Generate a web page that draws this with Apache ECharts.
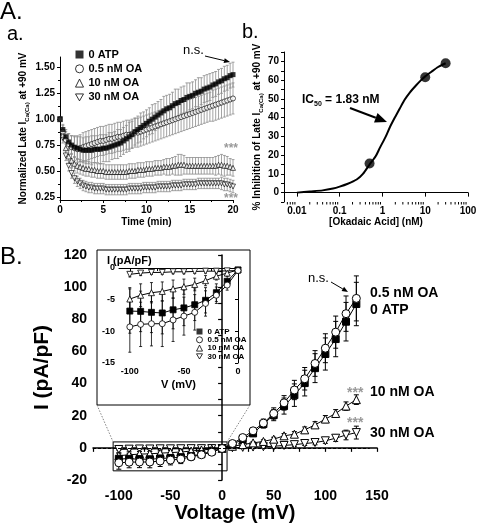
<!DOCTYPE html>
<html><head><meta charset="utf-8">
<script src="https://cdn.jsdelivr.net/npm/echarts@6/dist/echarts.min.js"></script>
<style>html,body{margin:0;padding:0;background:#fff}#c{width:477px;height:526px}</style>
</head><body><div id="c"></div>
<script>
// ---------- Panel A.a : time course (normalized late I at +90 mV) ----------
const timeMin = [0,0.33,0.67,1,1.33,1.67,2,2.33,2.67,3,3.33,3.67,4,4.33,4.67,5,5.33,5.67,6,6.33,6.67,7,7.33,7.67,8,8.33,8.67,9,9.33,9.67,10,10.33,10.67,11,11.33,11.67,12,12.33,12.67,13,13.33,13.67,14,14.33,14.67,15,15.33,15.67,16,16.33,16.67,17,17.33,17.67,18,18.33,18.67,19,19.33,19.67,20];
const tcAtp = [1.00,0.90,0.83,0.78,0.75,0.73,0.72,0.71,0.70,0.70,0.70,0.70,0.71,0.71,0.71,0.72,0.72,0.73,0.74,0.75,0.76,0.77,0.79,0.81,0.83,0.85,0.88,0.90,0.92,0.94,0.96,0.98,1.00,1.02,1.04,1.06,1.08,1.10,1.11,1.13,1.15,1.16,1.18,1.19,1.21,1.22,1.23,1.25,1.26,1.27,1.29,1.30,1.31,1.33,1.34,1.36,1.37,1.39,1.40,1.42,1.43];
const tcAtpErr = [0.00,0.05,0.07,0.08,0.09,0.10,0.11,0.12,0.12,0.13,0.13,0.14,0.13,0.13,0.14,0.13,0.13,0.14,0.13,0.13,0.14,0.13,0.13,0.13,0.14,0.13,0.13,0.13,0.14,0.13,0.13,0.13,0.14,0.13,0.13,0.13,0.14,0.13,0.13,0.13,0.14,0.13,0.13,0.13,0.14,0.13,0.13,0.13,0.14,0.13,0.13,0.13,0.13,0.12,0.12,0.12,0.12,0.12,0.12,0.12,0.12];
const tcOa05 = [1.00,0.88,0.80,0.76,0.73,0.72,0.71,0.72,0.73,0.74,0.75,0.76,0.77,0.78,0.79,0.79,0.80,0.81,0.81,0.82,0.83,0.83,0.84,0.85,0.85,0.86,0.87,0.87,0.88,0.89,0.90,0.91,0.92,0.93,0.94,0.95,0.96,0.97,0.98,0.99,1.00,1.01,1.02,1.03,1.04,1.05,1.06,1.07,1.08,1.09,1.10,1.11,1.12,1.13,1.14,1.15,1.16,1.17,1.18,1.19,1.20];
const tcOa05Err = [0.00,0.06,0.08,0.10,0.11,0.12,0.13,0.13,0.14,0.14,0.14,0.14,0.14,0.14,0.14,0.14,0.14,0.14,0.14,0.14,0.14,0.14,0.14,0.14,0.14,0.14,0.14,0.14,0.14,0.14,0.14,0.14,0.14,0.14,0.14,0.14,0.14,0.14,0.14,0.14,0.14,0.14,0.14,0.14,0.14,0.14,0.14,0.14,0.14,0.14,0.14,0.14,0.14,0.15,0.15,0.15,0.15,0.15,0.15,0.15,0.15];
const tcOa10 = [1.00,0.85,0.72,0.64,0.60,0.57,0.55,0.54,0.53,0.52,0.52,0.51,0.51,0.50,0.50,0.50,0.49,0.49,0.49,0.49,0.49,0.49,0.49,0.49,0.50,0.50,0.50,0.51,0.51,0.51,0.52,0.52,0.52,0.53,0.53,0.53,0.54,0.54,0.54,0.55,0.55,0.56,0.56,0.56,0.55,0.55,0.55,0.55,0.55,0.55,0.55,0.55,0.55,0.55,0.55,0.56,0.56,0.55,0.55,0.54,0.53];
const tcOa10Err = [0.00,0.05,0.06,0.07,0.07,0.07,0.07,0.07,0.07,0.07,0.07,0.07,0.07,0.07,0.07,0.07,0.07,0.07,0.07,0.07,0.07,0.07,0.07,0.07,0.07,0.07,0.07,0.07,0.07,0.07,0.07,0.07,0.07,0.07,0.07,0.07,0.07,0.08,0.08,0.08,0.09,0.10,0.10,0.09,0.08,0.08,0.08,0.08,0.08,0.08,0.08,0.08,0.08,0.08,0.09,0.09,0.10,0.10,0.09,0.08,0.08];
const tcOa30 = [1.00,0.82,0.65,0.55,0.48,0.43,0.40,0.38,0.36,0.35,0.34,0.34,0.33,0.33,0.33,0.33,0.32,0.32,0.32,0.32,0.32,0.32,0.32,0.32,0.33,0.33,0.33,0.33,0.33,0.34,0.34,0.34,0.34,0.34,0.35,0.35,0.35,0.35,0.35,0.36,0.36,0.36,0.36,0.37,0.37,0.37,0.37,0.37,0.38,0.38,0.38,0.38,0.38,0.38,0.38,0.38,0.38,0.37,0.37,0.36,0.35];
const tcOa30Err = [0.00,0.05,0.05,0.05,0.05,0.05,0.05,0.05,0.05,0.05,0.05,0.05,0.05,0.05,0.05,0.05,0.05,0.05,0.05,0.05,0.05,0.05,0.05,0.05,0.05,0.05,0.05,0.05,0.05,0.05,0.05,0.05,0.05,0.05,0.05,0.05,0.05,0.05,0.05,0.05,0.05,0.05,0.05,0.05,0.05,0.05,0.05,0.05,0.05,0.05,0.05,0.05,0.05,0.05,0.05,0.05,0.06,0.06,0.06,0.06,0.06];

// ---------- Panel A.b : concentration-response ----------
const okaConc = [0.5, 10, 30];
const okaInhib = [15.5, 61.5, 69];
const fitConc = [0.01,0.02,0.04,0.07,0.1,0.15,0.25,0.35,0.5,0.7,0.875,1.2,1.5,2,2.56,3.3,4.4,6,8,10,14,20,30];
const fitInhib = [0,0.6,1.2,2.2,3.2,4.6,7,10,15,19.5,24,30,35,40.5,45,49.5,53.5,57,60,62,64.5,67,69];
const logMinorTicks = [0.006,0.007,0.008,0.009,0.02,0.03,0.04,0.05,0.06,0.07,0.08,0.09,0.2,0.3,0.4,0.5,0.6,0.7,0.8,0.9,2,3,4,5,6,7,8,9,20,30,40,50,60,70,80,90];

// ---------- Panel B : I-V relationship ----------
const voltage = [-100,-90,-80,-70,-60,-50,-40,-30,-20,-10,0,10,20,30,40,50,60,70,80,90,100,110,120,130];
const ivAtp  = [-6.8,-6.85,-7.0,-7.1,-6.6,-6.3,-5.8,-5.1,-3.9,-2.1,-0.3,2.0,5.5,9.0,14.8,20.4,26.0,32.8,40.3,49.6,58.4,67.7,78.5,89.5];
const ivOa05 = [-9.3,-8.9,-8.8,-8.8,-8.2,-7.6,-7.0,-5.6,-4.3,-2.7,-0.4,2.7,6.4,10.6,15.4,21.4,28.0,36.0,43.0,52.5,62.0,72.0,83.5,93.0];
const ivOa10 = [-4.9,-4.3,-3.9,-3.7,-3.3,-2.95,-2.6,-2.0,-1.3,-0.8,-0.3,1.0,2.0,3.1,4.0,5.4,7.5,8.5,11.2,14.3,17.9,21.4,26.0,30.0];
const ivOa30 = [-1.0,-0.8,-0.7,-0.7,-0.6,-0.6,-0.55,-0.5,-0.5,-0.45,-0.4,0.1,0.3,0.5,0.7,1.0,1.5,2.0,2.7,3.3,4.4,6.0,8.0,9.5];
const ivAtpErr  = [3.5,3.2,3.2,3.3,3.0,2.8,2.5,2.0,1.4,0.8,0.3,0.6,1.0,1.5,2.5,3.5,5.0,7.0,8.0,9.0,10.0,11.0,12.0,13.5];
const ivOa05Err = [4.0,3.5,3.5,3.6,3.4,3.0,2.8,2.0,1.3,0.8,0.3,0.7,1.2,1.8,2.5,3.5,4.5,6.0,7.0,8.0,9.0,10.0,11.0,14.0];
const ivOa10Err = [1.8,1.8,1.6,1.5,1.4,1.2,1.0,0.8,0.6,0.4,0.2,0.4,0.6,0.8,1.0,1.2,1.4,1.6,1.8,2.0,2.2,2.4,2.6,3.0];
const ivOa30Err = [0.4,0.4,0.3,0.3,0.3,0.3,0.3,0.3,0.3,0.3,0.2,0.2,0.3,0.4,0.5,0.6,0.8,1.0,1.2,1.4,1.6,2.0,3.0,4.0];

const seriesNames = ['0 ATP', '0.5 nM OA', '10 nM OA', '30 nM OA'];

// ---------- helpers ----------
const FONT = '"Liberation Sans", Arial, Helvetica, sans-serif';
const INV_TRI = 'path://M0,0L10,0L5,8.66Z';
const symbols = ['rect', 'circle', 'triangle', INV_TRI];
const fills = ['#000', '#fff', '#fff', '#fff'];
const pts = (xs, ys) => xs.map((x, i) => [x, ys[i]]);
const ept = (xs, ys, es) => xs.map((x, i) => [x, ys[i], es[i]]);
const bold = (s, extra) => Object.assign({color: '#000', fontWeight: 'bold', fontSize: s, fontFamily: FONT}, extra || {});
function axis(o) {
  return Object.assign({
    splitLine: {show: false},
    axisLine: {show: true, lineStyle: {color: '#000', width: 1}},
    axisTick: {show: true, length: 3, lineStyle: {color: '#000', width: 1}}
  }, o);
}
function errRender(cap, color, lw) {
  return function (params, api) {
    const x = api.value(0), y = api.value(1), e = api.value(2);
    if (!e) return null;
    const t = api.coord([x, y + e]), b = api.coord([x, y - e]);
    const st = {stroke: color, lineWidth: lw, fill: null};
    return {type: 'group', children: [
      {type: 'line', shape: {x1: t[0], y1: t[1], x2: b[0], y2: b[1]}, style: st},
      {type: 'line', shape: {x1: t[0] - cap, y1: t[1], x2: t[0] + cap, y2: t[1]}, style: st},
      {type: 'line', shape: {x1: b[0] - cap, y1: b[1], x2: b[0] + cap, y2: b[1]}, style: st}
    ]};
  };
}
function errSeries(xi, yi, data, cap, color, lw) {
  return {type: 'custom', xAxisIndex: xi, yAxisIndex: yi, data: data, encode: {x: 0, y: 1},
    renderItem: errRender(cap, color, lw), z: 1, silent: true, clip: false};
}
function subRich(size) {
  return {
    b: {fontSize: size, fontWeight: 'bold', fontFamily: FONT, color: '#000', lineHeight: size + 3, verticalAlign: 'middle'},
    s: {fontSize: Math.round(size * 0.6), fontWeight: 'bold', fontFamily: FONT, color: '#000', lineHeight: size + 3, verticalAlign: 'bottom', padding: [3, 0, 0, 0]}
  };
}

const tcVals = [tcAtp, tcOa05, tcOa10, tcOa30];
const tcErrs = [tcAtpErr, tcOa05Err, tcOa10Err, tcOa30Err];
const ivVals = [ivAtp, ivOa05, ivOa10, ivOa30];
const ivErrs = [ivAtpErr, ivOa05Err, ivOa10Err, ivOa30Err];
const drawOrder = [3, 2, 1, 0];        // time course: 0 ATP on top
const ivOrder = [3, 2, 0, 1];          // I-V: 0.5 nM OA on top
const negIdx = voltage.map((v, i) => i).filter(i => voltage[i] <= 0);

const series = [];
// A.a error bars then markers
drawOrder.forEach(k => series.push(errSeries(0, 0, ept(timeMin, tcVals[k], tcErrs[k]), 1.5, '#8c8c8c', 0.8)));
drawOrder.forEach(k => series.push({
  type: 'scatter', name: seriesNames[k], xAxisIndex: 0, yAxisIndex: 0,
  data: pts(timeMin, tcVals[k]), symbol: symbols[k], symbolSize: 5,
  itemStyle: {color: fills[k], borderColor: '#000', borderWidth: k === 0 ? 0 : 0.8}, z: 3, silent: true
}));
// A.b fit + points + minor log ticks
series.push({type: 'line', xAxisIndex: 2, yAxisIndex: 2, data: pts(fitConc, fitInhib), smooth: 0.25,
  symbol: 'none', lineStyle: {color: '#000', width: 2}, z: 2, silent: true});
series.push({type: 'scatter', xAxisIndex: 2, yAxisIndex: 2, data: pts(okaConc, okaInhib), symbolSize: 10,
  itemStyle: {color: '#000'}, z: 3, silent: true});
series.push({type: 'custom', xAxisIndex: 2, yAxisIndex: 2, data: logMinorTicks.map(v => [v, -5]), encode: {x: 0, y: 1},
  clip: false, silent: true,
  renderItem: function (p, api) {
    const c = api.coord([api.value(0), api.value(1)]);
    return {type: 'line', shape: {x1: c[0], y1: c[1], x2: c[0], y2: c[1] + 2.5}, style: {stroke: '#000', lineWidth: 1}};
  }});
// B main: error bars + lines
ivOrder.forEach(k => series.push(errSeries(3, 3, ept(voltage, ivVals[k], ivErrs[k]), 2.5, '#000', 1)));
ivOrder.forEach((k, j) => {
  const s = {
    type: 'line', name: seriesNames[k], xAxisIndex: 3, yAxisIndex: 3, data: pts(voltage, ivVals[k]),
    symbol: symbols[k], symbolSize: k === 0 ? 7 : 8, showSymbol: true,
    lineStyle: {color: '#000', width: 1}, itemStyle: {color: fills[k], borderColor: '#000', borderWidth: 1},
    z: 3, silent: true
  };
  if (j === 0) {
    s.markLine = {silent: true, symbol: 'none', label: {show: false},
      lineStyle: {color: '#000', width: 1, type: [3, 2]},
      data: [[{coord: [-125, 0]}, {coord: [143, 0]}]]};
    s.markArea = {silent: true, label: {show: false},
      itemStyle: {color: 'rgba(0,0,0,0)', borderColor: '#000', borderWidth: 1},
      data: [[{coord: [-105.5, 3.7]}, {coord: [4.8, -14.3]}]]};
  }
  series.push(s);
});
// Inset: negative voltages
const sub = arr => negIdx.map(i => arr[i]);
ivOrder.forEach(k => series.push(errSeries(4, 4, ept(sub(voltage), sub(ivVals[k]), sub(ivErrs[k])), 1.5, '#000', 0.8)));
ivOrder.forEach(k => series.push({
  type: 'line', name: seriesNames[k], xAxisIndex: 4, yAxisIndex: 4, data: pts(sub(voltage), sub(ivVals[k])),
  symbol: symbols[k], symbolSize: 6, showSymbol: true,
  lineStyle: {color: '#000', width: 1}, itemStyle: {color: fills[k], borderColor: '#000', borderWidth: 0.8},
  z: 3, silent: true
}));

const legendData = seriesNames.map((n, k) => ({name: n, icon: symbols[k],
  itemStyle: {color: fills[k], borderColor: '#000', borderWidth: k === 0 ? 0 : 1}}));

const option = {
  animation: false,
  backgroundColor: '#fff',
  textStyle: {fontFamily: FONT},
  grid: [
    {left: 60, top: 57, width: 173, height: 143, outerBoundsMode: 'none'},
    {left: 60, top: 67.4, width: 173, height: 129.5, outerBoundsMode: 'none'},
    {left: 284, top: 52, width: 184, height: 150, outerBoundsMode: 'none'},
    {left: 93, top: 255, width: 284, height: 225, outerBoundsMode: 'none'},
    {left: 119, top: 268, width: 119, height: 95, outerBoundsMode: 'none'},
    {left: 129.8, top: 268, width: 108.2, height: 95, outerBoundsMode: 'none'}
  ],
  xAxis: [
    axis({gridIndex: 0, type: 'value', min: 0, max: 20, interval: 5,
      minorTick: {show: true, splitNumber: 2, length: 2, lineStyle: {color: '#000'}},
      axisLabel: bold(10, {margin: 5}),
      name: 'Time (min)', nameLocation: 'middle', nameGap: 17, nameTextStyle: bold(10)}),
    {gridIndex: 1, type: 'value', min: 0, max: 20, show: false},
    axis({gridIndex: 2, type: 'log', logBase: 10, min: 0.005, max: 100,
      axisTick: {show: true, length: 4, lineStyle: {color: '#000'}},
      axisLabel: bold(10, {margin: 4, showMinLabel: false,
        formatter: v => (v < 0.009 ? '' : String(+(+v).toPrecision(2)))}),
      name: '[Okadaic Acid] (nM)', nameLocation: 'middle', nameGap: 14, nameTextStyle: bold(10)}),
    axis({gridIndex: 3, type: 'value', min: -125, max: 150, interval: 25,
      axisLine: {show: true, lineStyle: {color: '#000', width: 1.5}},
      axisTick: {show: true, length: 4, lineStyle: {color: '#000', width: 1.2}},
      axisLabel: bold(14, {margin: 9, formatter: v => (v % 50 === 0 ? String(v) : '')}),
      name: 'Voltage (mV)', nameLocation: 'middle', nameGap: 23, nameTextStyle: bold(20)}),
    axis({gridIndex: 4, type: 'value', min: -110, max: 0,
      axisTick: {show: false}, axisLabel: {show: false},
      name: 'V (mV)', nameLocation: 'middle', nameGap: 16, nameTextStyle: bold(11)}),
    axis({gridIndex: 5, type: 'value', min: -100, max: 0, interval: 25,
      axisLine: {show: false},
      axisLabel: bold(9, {margin: 4, formatter: v => (v % 50 === 0 ? String(v) : '')})})
  ],
  yAxis: [
    axis({gridIndex: 0, type: 'value', min: 0.22, max: 1.6,
      axisTick: {show: false}, axisLabel: {show: false},
      name: '{b|Normalized Late I}{s|Ca(Ca)}{b| at +90 mV}', nameLocation: 'middle', nameGap: 30,
      nameTextStyle: {rich: subRich(10)}}),
    axis({gridIndex: 1, type: 'value', min: 0.25, max: 1.5, interval: 0.25,
      axisLine: {show: false},
      minorTick: {show: true, splitNumber: 2, length: 2, lineStyle: {color: '#000'}},
      axisLabel: bold(10, {margin: 5, formatter: v => v.toFixed(2)})}),
    axis({gridIndex: 2, type: 'value', min: -5, max: 75, interval: 5,
      axisLabel: bold(10, {margin: 5, formatter: v => (v % 10 === 0 ? String(v) : '')}),
      name: '{b|% Inhibition of Late I}{s|Ca(Ca)}{b| at +90 mV}', nameLocation: 'middle', nameGap: 16,
      nameTextStyle: {rich: subRich(10)}}),
    axis({gridIndex: 3, type: 'value', min: -20, max: 120, interval: 10,
      axisLine: {show: true, lineStyle: {color: '#000', width: 1.5}},
      axisTick: {show: true, length: 4, lineStyle: {color: '#000', width: 1.2}},
      axisLabel: bold(14, {margin: 6, formatter: v => (v % 20 === 0 ? String(v) : '')}),
      name: 'I (pA/pF)', nameLocation: 'middle', nameGap: 34, nameTextStyle: bold(21)}),
    axis({gridIndex: 4, type: 'value', min: -15, max: 0, interval: 5,
      axisLabel: bold(9, {margin: 4})}),
    {gridIndex: 5, type: 'value', min: -15, max: 0, show: false}
  ],
  legend: [
    {orient: 'vertical', left: 75, top: 48.5, padding: 0, itemGap: 2.3, itemWidth: 8, itemHeight: 8,
      selectedMode: false, data: legendData, textStyle: bold(11, {lineHeight: 12})},
    {orient: 'vertical', left: 196, top: 327.5, padding: 0, itemGap: 0.3, itemWidth: 6, itemHeight: 6,
      selectedMode: false, data: legendData, textStyle: bold(8, {lineHeight: 8})}
  ],
  series: series
};

const chart = echarts.init(document.getElementById('c'), null, {renderer: 'canvas'});
chart.setOption(option);

// ---------- annotations ----------
function txt(x, y, text, size, opts) {
  opts = opts || {};
  return {type: 'text', x: x, y: y, z: 50, silent: true,
    style: Object.assign({text: text, fontSize: size, fontFamily: FONT, fontWeight: opts.weight || 'normal',
      fill: opts.color || '#000', align: opts.align || 'left', verticalAlign: opts.valign || 'middle'}, opts.style || {})};
}
function arrow(x1, y1, x2, y2, lw, hl, hw) {
  const a = Math.atan2(y2 - y1, x2 - x1);
  const bx = x2 - hl * Math.cos(a), by = y2 - hl * Math.sin(a);
  const px = -Math.sin(a) * hw / 2, py = Math.cos(a) * hw / 2;
  return [
    {type: 'line', z: 50, silent: true, shape: {x1: x1, y1: y1, x2: bx, y2: by}, style: {stroke: '#000', lineWidth: lw}},
    {type: 'polygon', z: 50, silent: true, shape: {points: [[x2, y2], [bx + px, by + py], [bx - px, by - py]]}, style: {fill: '#000'}}
  ];
}
const boxTL = chart.convertToPixel({xAxisIndex: 3, yAxisIndex: 3}, [-105.5, 3.7]);
const boxTR = chart.convertToPixel({xAxisIndex: 3, yAxisIndex: 3}, [4.8, 3.7]);
const inset = {x: 97, y: 250, w: 153, h: 155};
const g = [
  txt(0, 12, 'A.', 24), txt(7, 34, 'a.', 20), txt(242, 32, 'b.', 20), txt(0, 257, 'B.', 24),
  {type: 'rect', z: 40, silent: true, shape: {x: inset.x, y: inset.y, width: inset.w, height: inset.h},
    style: {fill: null, stroke: '#000', lineWidth: 1}},
  {type: 'line', z: 40, silent: true, shape: {x1: inset.x, y1: inset.y + inset.h, x2: boxTL[0], y2: boxTL[1]},
    style: {stroke: '#666', lineWidth: 0.8, lineDash: [1.5, 1.5]}},
  {type: 'line', z: 40, silent: true, shape: {x1: inset.x + inset.w, y1: inset.y + inset.h, x2: boxTR[0], y2: boxTR[1]},
    style: {stroke: '#666', lineWidth: 0.8, lineDash: [1.5, 1.5]}},
  txt(107, 261, 'I (pA/pF)', 11, {weight: 'bold'}),
  // Panel A.a annotations
  txt(183, 50, 'n.s.', 13),
  txt(224, 149, '***', 12, {color: '#999', weight: 'bold'}),
  txt(224, 199, '***', 12, {color: '#999', weight: 'bold'}),
  // Panel A.b annotation
  {type: 'text', x: 302, y: 100, z: 50, silent: true,
    style: {text: '{b|IC}{s|50}{b| = 1.83 nM}', rich: subRich(12), align: 'left', verticalAlign: 'middle'}},
  // Panel B annotations
  txt(308, 278, 'n.s.', 13),
  txt(370, 293, '0.5 nM OA', 14, {weight: 'bold'}),
  txt(370, 310, '0 ATP', 14, {weight: 'bold'}),
  txt(370, 392, '10 nM OA', 14, {weight: 'bold'}),
  txt(370, 433, '30 nM OA', 14, {weight: 'bold'}),
  txt(347, 393, '***', 14, {color: '#999', weight: 'bold'}),
  txt(347, 423, '***', 14, {color: '#999', weight: 'bold'})
].concat(arrow(205, 56, 230, 62, 1, 6, 5))
 .concat(arrow(350, 108, 387, 122, 2, 12, 10))
 .concat(arrow(331, 282, 348, 292, 1, 6, 5));
chart.setOption({graphic: {elements: g}});
</script></body></html>
